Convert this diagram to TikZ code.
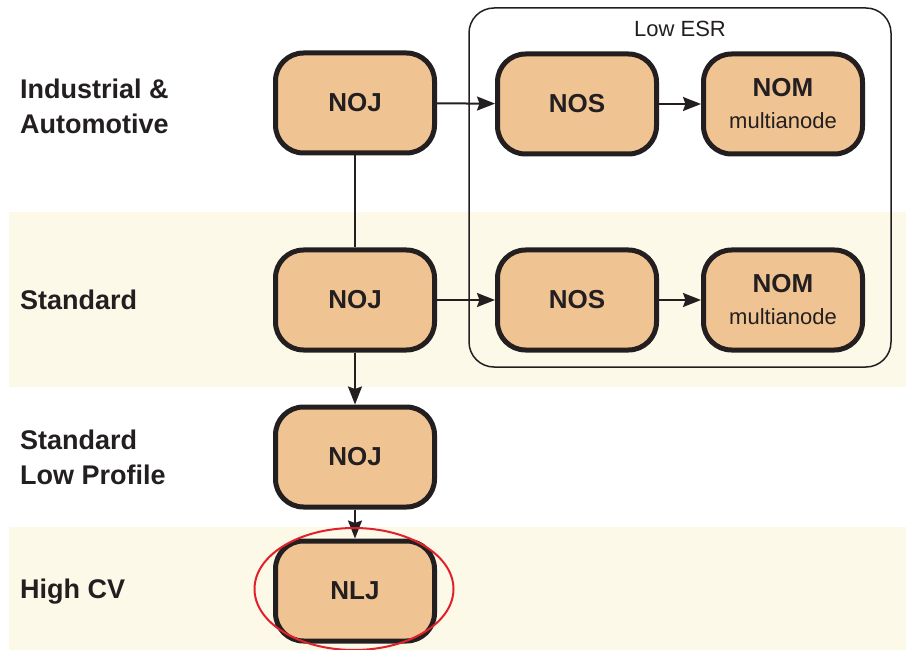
\documentclass[tikz,border=0pt]{standalone}
\usepackage{fontspec}
\setmainfont{Liberation Sans}
\usetikzlibrary{arrows.meta,shapes.geometric}
\definecolor{peach}{HTML}{F0C392}
\definecolor{ink}{HTML}{231F20}
\definecolor{band}{HTML}{FDF9E8}
\definecolor{redring}{HTML}{E0202A}
\newcommand{\subtxt}[1]{{\fontsize{22}{24}\selectfont\mdseries #1}}
\tikzset{
  prod/.style={draw=ink, fill=peach, line width=5pt, rounded corners=28pt,
    minimum width=159pt, minimum height=100pt, inner sep=0pt,
    font=\fontsize{26}{28}\selectfont\bfseries, text=ink, align=center},
  rowlabel/.style={anchor=west, align=left, inner sep=0pt,
    font=\fontsize{27}{35}\selectfont\bfseries, text=ink},
  arr/.style={draw=ink, line width=2pt, -{Stealth[length=18pt,width=14pt,inset=2.5pt]}},
  link/.style={draw=ink, line width=2pt}
}
\begin{document}
\begin{tikzpicture}[x=1pt,y=-1pt]
\useasboundingbox (0,0) rectangle (906,650);
\fill[white] (0,0) rectangle (906,650);
% bands
\fill[band] (9,212) rectangle (906,387);
\fill[band] (9,527) rectangle (906,650);
% Low ESR frame
\node[draw=ink, line width=1.5pt, rounded corners=25pt, minimum width=422pt,
  minimum height=359pt, inner sep=0pt] (lowesr) at (680,187.5) {};
\node[font=\fontsize{22}{24}\selectfont, text=ink] (lowesrlabel) at (680,29) {Low ESR};
% row labels
\node[rowlabel] (lab1) at (20,106) {Industrial \&\\Automotive};
\node[rowlabel] (lab2) at (20,300) {Standard};
\node[rowlabel] (lab3) at (20,457) {Standard\\Low Profile};
\node[rowlabel] (lab4) at (20,592) {High CV};
% product nodes
\node[prod] (noj1) at (355,103) {NOJ};
\node[prod] (nos1) at (577,104) {NOS};
\node[prod] (nom1) at (783,104) {NOM\\[4pt]\subtxt{multianode}};
\node[prod] (noj2) at (355,300) {NOJ};
\node[prod] (nos2) at (577,300) {NOS};
\node[prod] (nom2) at (783,300) {NOM\\[4pt]\subtxt{multianode}};
\node[prod] (noj3) at (355,457) {NOJ};
\node[prod] (nlj) at (355,591) {NLJ};
% connectors
\draw[arr] (noj1) -- (nos1);
\draw[arr] (nos1) -- (nom1);
\draw[arr] (noj2) -- (nos2);
\draw[arr] (nos2) -- (nom2);
\draw[link] (noj1) -- (noj2);
\draw[arr] (noj2) -- (noj3);
\draw[arr] (noj3) -- (nlj);
% highlight ring
\node[draw=redring, line width=2pt, ellipse, minimum width=199pt,
  minimum height=122pt, inner sep=0pt] (ring) at (354,589) {};
\end{tikzpicture}
\end{document}
